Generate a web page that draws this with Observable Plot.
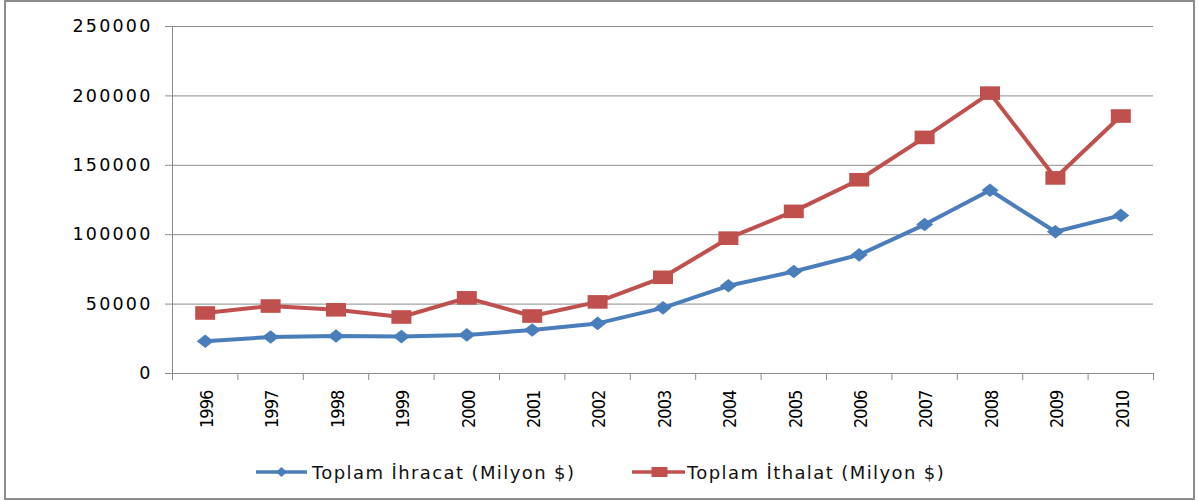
<!DOCTYPE html>
<html>
<head>
<meta charset="utf-8">
<script src="https://cdn.jsdelivr.net/npm/d3@7"></script>
<script src="https://cdn.jsdelivr.net/npm/@observablehq/plot@0.6"></script>
<style>
  body { margin: 0; background: #ffffff; }
  #frame { position: absolute; left: 4px; top: 0px; width: 1191px; height: 500px; box-sizing: border-box; border: 2px solid #8c8c8c; }
  #chart { position: absolute; left: 0; top: 0; }
  #legend { position: absolute; left: 0; top: 459px; width: 1198px; height: 26px; font-family: "DejaVu Sans", sans-serif; font-size: 18px; letter-spacing: 1.4px; color: #111; }
  .item { position: absolute; top: 0; height: 26px; display: flex; align-items: center; white-space: nowrap; }
  .item svg { display: block; }
  g[aria-label="y-axis tick label"] text { letter-spacing: 2.2px; }
  g[aria-label="x-axis tick label"] text { letter-spacing: -0.9px; }
</style>
</head>
<body>
<div id="frame"></div>
<div id="chart"></div>
<div id="legend"></div>
<script>
// ---- data ----
const years = [1996, 1997, 1998, 1999, 2000, 2001, 2002, 2003, 2004, 2005, 2006, 2007, 2008, 2009, 2010];
const exportValues = [23200, 26300, 27000, 26600, 27800, 31300, 36100, 47300, 63200, 73500, 85500, 107300, 132000, 102100, 113900];
const importValues = [43600, 48600, 45900, 40700, 54500, 41400, 51600, 69300, 97500, 116800, 139600, 170100, 202000, 140900, 185500];
const seriesNames = ["Toplam İhracat (Milyon $)", "Toplam İthalat (Milyon $)"];
const seriesColors = ["#4a7ebb", "#c0504d"];
const yTicks = [0, 50000, 100000, 150000, 200000, 250000];

// ---- table built from arrays ----
const rows = [
  ...years.map((y, i) => ({year: y, value: exportValues[i], series: seriesNames[0]})),
  ...years.map((y, i) => ({year: y, value: importValues[i], series: seriesNames[1]}))
];
const xDomain = [years[0] - 0.5, years[years.length - 1] + 0.5];
const boundaries = [...years.map(y => y - 0.5), years[years.length - 1] + 0.5];

// stretched marker shapes (Excel markers look horizontally stretched)
const diamondSym = {draw(ctx, size) { const r = Math.sqrt(size / Math.PI); const w = r, h = r * 0.8; ctx.moveTo(0, -h); ctx.lineTo(w, 0); ctx.lineTo(0, h); ctx.lineTo(-w, 0); ctx.closePath(); }};
const squareSym = {draw(ctx, size) { const r = Math.sqrt(size / Math.PI); const w = r, h = r * 0.68; ctx.rect(-w, -h, 2 * w, 2 * h); }};

const gridColor = "#8c8c8c";

const chart = Plot.plot({
  width: 1198,
  height: 440,
  marginLeft: 172,
  marginRight: 45,
  marginTop: 26,
  marginBottom: 67,
  style: {background: "transparent", fontFamily: "DejaVu Sans, sans-serif", color: "#000"},
  x: {type: "linear", domain: xDomain},
  y: {domain: [0, 250000]},
  color: {domain: seriesNames, range: seriesColors},
  marks: [
    Plot.ruleY(yTicks, {stroke: gridColor, strokeWidth: 1, strokeOpacity: 1}),
    Plot.ruleX([xDomain[0]], {stroke: gridColor, strokeWidth: 1}),
    Plot.axisY(yTicks, {tickSize: 7, tickPadding: 13, tickFormat: d => String(d), fontSize: 17.5, stroke: gridColor, fill: "#000", label: null}),
    Plot.axisX(boundaries, {tickSize: 7, tickFormat: () => "", stroke: gridColor, label: null}),
    Plot.axisX(years, {tickSize: 0, tickPadding: 17, tickRotate: -90, dx: 2, tickFormat: d => String(d), fontSize: 18, fontFamily: "DejaVu Sans Condensed, DejaVu Sans, sans-serif", fill: "#000", label: null}),
    Plot.line(rows, {x: "year", y: "value", stroke: "series", z: "series", strokeWidth: 4, strokeLinejoin: "round"}),
    Plot.dot(rows.filter(d => d.series === seriesNames[0]), {x: "year", y: "value", fill: seriesColors[0], stroke: "none", r: 8.5, symbol: diamondSym}),
    Plot.dot(rows.filter(d => d.series === seriesNames[1]), {x: "year", y: "value", fill: seriesColors[1], stroke: "none", r: 10, symbol: squareSym})
  ]
});
document.getElementById("chart").appendChild(chart);

// ---- legend ----
const legend = document.getElementById("legend");
const legendLeft = [256, 632];
seriesNames.forEach((name, i) => {
  const item = document.createElement("div");
  item.className = "item";
  item.style.left = legendLeft[i] + "px";
  const sw = i === 0
    ? `<svg width="56" height="26"><line x1="0" y1="13" x2="51" y2="13" stroke="${seriesColors[i]}" stroke-width="3.5"/><path d="M25.5,8 L31,13 L25.5,18 L20,13 Z" fill="${seriesColors[i]}"/></svg>`
    : `<svg width="55" height="26"><line x1="0" y1="13" x2="53" y2="13" stroke="${seriesColors[i]}" stroke-width="3.5"/><rect x="19.5" y="8" width="16" height="10" fill="${seriesColors[i]}"/></svg>`;
  item.innerHTML = sw + `<span>${name}</span>`;
  legend.appendChild(item);
});
</script>
</body>
</html>
